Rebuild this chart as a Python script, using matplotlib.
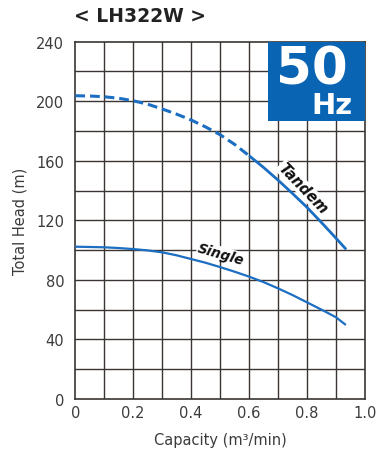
import matplotlib
matplotlib.use("Agg")
import matplotlib.pyplot as plt
from matplotlib.patches import Rectangle

plt.rcParams['font.family'] = ['DejaVu Sans']

# Data
tandem_dash_q = [0.0, 0.05, 0.1, 0.15, 0.2, 0.25, 0.3, 0.35, 0.4, 0.45, 0.5, 0.55, 0.6]
tandem_dash_h = [203.7, 203.5, 203.0, 202.0, 200.3, 198.0, 194.8, 191.3, 187.4, 182.7, 177.5, 171.0, 163.4]
tandem_solid_q = [0.6, 0.65, 0.7, 0.75, 0.8, 0.85, 0.9, 0.935]
tandem_solid_h = [163.4, 155.5, 147.0, 138.0, 128.7, 118.5, 108.0, 100.5]
single_q = [0.0, 0.05, 0.1, 0.15, 0.2, 0.25, 0.3, 0.35, 0.4, 0.45, 0.5, 0.55, 0.6,
            0.65, 0.7, 0.75, 0.8, 0.85, 0.9, 0.934]
single_h = [102.3, 102.1, 101.9, 101.4, 100.7, 99.8, 98.5, 96.5, 94.0, 91.5, 88.6, 85.5, 82.2,
            78.5, 74.3, 69.8, 64.9, 60.0, 54.9, 49.7]
xticks = [0, 0.2, 0.4, 0.6, 0.8, 1.0]
xticklabels = ['0', '0.2', '0.4', '0.6', '0.8', '1.0']
yticks = [0, 40, 80, 120, 160, 200, 240]

blue = '#1c6ec2'
boxblue = '#0a64b4'
dark = '#3a3532'
textgrey = '#3c3c3c'

fig = plt.figure(figsize=(3.76, 4.56), dpi=100)
ax = fig.add_axes([0.2003, 0.1228, 0.7704, 0.7836])
ax.set_xlim(0, 1.0)
ax.set_ylim(0, 240)

# grid
for gx in [i / 10 for i in range(1, 10)]:
    ax.axvline(gx, color=dark, lw=1.0, zorder=1)
for gy in range(20, 240, 20):
    ax.axhline(gy, color=dark, lw=1.0, zorder=1)
for s in ax.spines.values():
    s.set_color(dark)
    s.set_linewidth(1.2)

ax.set_xticks(xticks)
ax.set_xticklabels(xticklabels)
ax.set_yticks(yticks)
ax.tick_params(length=0, labelsize=10.5, colors=textgrey)
ax.tick_params(axis='y', pad=8)
ax.tick_params(axis='x', pad=4)

ax.plot(tandem_dash_q, tandem_dash_h, color=blue, lw=2.2, ls=(0, (3.2, 1.6)), zorder=3,
        dash_capstyle='butt')
ax.plot(tandem_solid_q, tandem_solid_h, color=blue, lw=2.0, zorder=3, solid_capstyle='butt')
ax.plot(single_q, single_h, color=blue, lw=1.6, zorder=3, solid_capstyle='butt')

ax.text(0.502, 97.5, 'Single', rotation=-16, ha='center', va='center', fontsize=9.8,
        fontweight='bold', fontstyle='italic', color='#111111', zorder=4,
        bbox=dict(facecolor='white', edgecolor='none', pad=0.3))
ax.text(0.785, 142, 'Tandem', rotation=-46, ha='center', va='center', fontsize=10.5,
        fontweight='bold', fontstyle='italic', color='#111111', zorder=4,
        bbox=dict(facecolor='white', edgecolor='none', pad=0.3))

# 50 Hz box
ax.add_patch(Rectangle((0.666, 187), 0.334, 53, facecolor=boxblue, edgecolor='none', zorder=5))
ax.text(0.818, 221.5, '50', ha='center', va='center', fontsize=37, fontweight='bold',
        color='white', zorder=6)
ax.text(0.958, 197.5, 'Hz', ha='right', va='center', fontsize=21, fontweight='bold',
        color='white', zorder=6)

ax.set_xlabel('Capacity (m\u00b3/min)', fontsize=10.5, color=textgrey, labelpad=9)
ax.set_ylabel('Total Head (m)', fontsize=10.5, color=textgrey, labelpad=6)

fig.text(0.372, 0.963, '< LH322W >', ha='center', va='center', fontsize=13.5,
         fontweight='bold', color='#222222')

fig.savefig('out.png', dpi=100)
